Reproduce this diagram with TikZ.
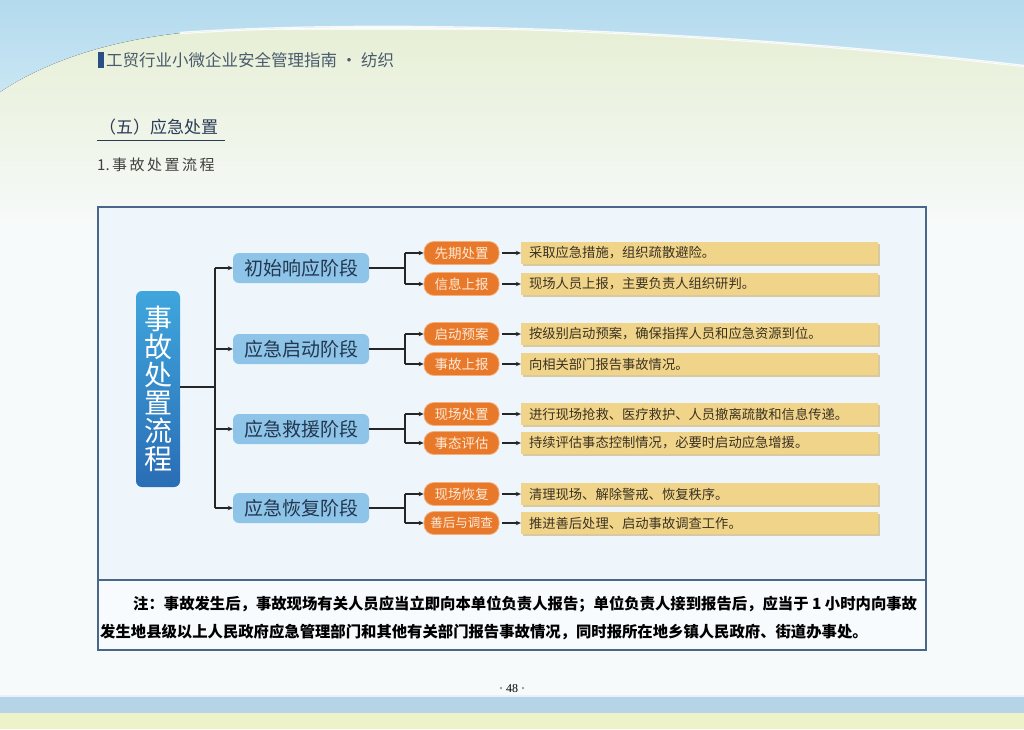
\documentclass[tikz,border=0pt]{standalone}
\usepackage{fontspec}
\setmainfont{Noto Sans CJK SC}
\newfontfamily\serifnum{Liberation Serif}
\usetikzlibrary{arrows.meta}
\newcommand\fs[1]{\fontsize{#1pt}{#1pt}\selectfont}
\definecolor{pagebg}{HTML}{F7FAFA}
\definecolor{skyblue}{HTML}{B3DAEE}
\definecolor{skyblue2}{HTML}{C9E6F3}
\definecolor{palegreen}{HTML}{E7EFD6}
\definecolor{boxline}{HTML}{4A6688}
\definecolor{boxfill}{HTML}{EEF6FB}
\definecolor{phaseblue}{HTML}{8DC4E7}
\definecolor{phasetext}{HTML}{23364F}
\definecolor{lefttop}{HTML}{3FA6DD}
\definecolor{leftbot}{HTML}{2A6DB5}
\definecolor{orangebox}{HTML}{E8782A}
\definecolor{orangeedge}{HTML}{F3B07A}
\definecolor{orangetext}{HTML}{FCEBD8}
\definecolor{yellowbar}{HTML}{F0D48A}
\definecolor{yellowshadow}{HTML}{D9C9A0}
\definecolor{yellowtext}{HTML}{3C3222}
\definecolor{headtext}{HTML}{4A5A6C}
\definecolor{headbar}{HTML}{2C4E86}
\definecolor{titletext}{HTML}{2B3B56}
\definecolor{bandblue}{HTML}{B6D4E8}
\definecolor{bandyellow}{HTML}{EEF2C8}
\tikzset{
  phase/.style={rounded corners=6pt, fill=phaseblue, minimum width=136pt, minimum height=30pt, inner sep=0pt, font=\fs{19}, text=phasetext},
  substep/.style={rounded corners=10pt, fill=orangebox, draw=orangeedge, line width=0.8pt, minimum width=75pt, minimum height=23pt, inner sep=0pt, font=\fs{13.5}, text=orangetext},
  detail/.style={fill=yellowbar, minimum width=357pt, minimum height=22pt, inner sep=0pt},
  detailtext/.style={anchor=west, inner sep=0pt, font=\fs{13.3}, text=yellowtext},
  conn/.style={draw=black!85, line width=1.2pt},
  arr/.style={conn, -{Stealth[length=5pt,width=4.5pt]}},
}
\begin{document}
\begin{tikzpicture}[x=1pt,y=-1pt]
\useasboundingbox (0,0) rectangle (1024,729);
% page background
\fill[pagebg] (0,0) rectangle (1024,729);
\fill[top color=palegreen, bottom color=pagebg] (0,30) rectangle (1024,230);
\fill[top color=skyblue, bottom color=skyblue2] (0,0) -- (1024,0) -- (1024,66) .. controls (800,40) and (450,15) .. (180,33) .. controls (100,42) and (40,65) .. (0,92) -- cycle;
\draw[white, line width=2.5pt, opacity=0.85] (180,33) .. controls (450,15) and (800,40) .. (1024,66);
% bottom bands
\fill[bandblue] (0,697) rectangle (1024,713);
\fill[bandyellow] (0,713) rectangle (1024,729);
\fill[white!70!bandblue] (0,695) rectangle (1024,697);
% header
\fill[headbar] (98,52) rectangle (104,68);
\node[anchor=west, inner sep=0pt, font=\fs{16.5}, text=headtext] (hdr) at (106,60) {工贸行业小微企业安全管理指南 · 纺织};
\node[anchor=west, inner sep=0pt, font=\fs{17}, text=titletext] (sec) at (99,127) {（五）应急处置};
\draw[titletext, line width=0.8pt] (97,140) -- (225,140);
\node[anchor=west, inner sep=0pt, font=\fs{15}, text=black!75] (sub) at (97,165) {1.\,事\,故\,处\,置\,流\,程};
% main box
\fill[boxfill] (98,207) rectangle (926,580);
\fill[white!60!boxfill] (98,580) rectangle (926,650);
\draw[boxline, line width=1.6pt] (98,207) rectangle (926,650);
\draw[boxline, line width=1.6pt] (98,580) -- (926,580);
% left node
\node[rounded corners=6pt, top color=lefttop, bottom color=leftbot, minimum width=44pt, minimum height=196pt, inner sep=0pt, text=white, font=\fs{28}, align=center] (L) at (158,389) {事\\[0pt]故\\[0pt]处\\[0pt]置\\[0pt]流\\[0pt]程};
% phases
\node[phase] (P1) at (301,268) {初始响应阶段};
\node[phase] (P2) at (301,349) {应急启动阶段};
\node[phase] (P3) at (301,429) {应急救援阶段};
\node[phase] (P4) at (301,508) {应急恢复阶段};
\coordinate (T) at (215,387);
\draw[conn] (L.east |- T) -- (T);
\draw[conn] (T |- P1) -- (T |- P4);
\foreach \p in {P1,P2,P3,P4} \draw[arr] (T |- \p) -- (\p.west);
% sub steps
\node[substep] (S1) at (461.5,253) {先期处置};
\node[substep] (S2) at (461.5,284) {信息上报};
\node[substep] (S3) at (461.5,334) {启动预案};
\node[substep] (S4) at (461.5,364) {事故上报};
\node[substep] (S5) at (461.5,414) {现场处置};
\node[substep] (S6) at (461.5,443) {事态评估};
\node[substep] (S7) at (461.5,494) {现场恢复};
\node[substep, font=\fs{12.5}] (S8) at (461.5,523) {善后与调查};
\foreach \p/\a/\b in {P1/S1/S2, P2/S3/S4, P3/S5/S6, P4/S7/S8} {
  \coordinate (J\p) at (405,0);
  \draw[conn] (\p.east) -- (J\p |- \p);
  \draw[conn] (J\p |- \a) -- (J\p |- \b);
  \draw[arr] (J\p |- \a) -- (\a.west);
  \draw[arr] (J\p |- \b) -- (\b.west);
}
% details
\foreach \s/\t [count=\i] in {S1/采取应急措施，组织疏散避险。, S2/现场人员上报，主要负责人组织研判。, S3/按级别启动预案，确保指挥人员和应急资源到位。, S4/向相关部门报告事故情况。, S5/进行现场抢救、医疗救护、人员撤离疏散和信息传递。, S6/持续评估事态控制情况，必要时启动应急增援。, S7/清理现场、解除警戒、恢复秩序。, S8/推进善后处理、启动事故调查工作。} {
  \fill[yellowshadow] (523,0 |- \s) ++(0,-9) rectangle ++(357,22);
  \node[detail] (D\i) at (699.5,0 |- \s) {};
  \node[detailtext] (DT\i) at ([xshift=8pt]D\i.west) {\t};
  \draw[arr] (\s.east) ++(3,0) -- (D\i.west);
}
% note
\node[anchor=west, inner sep=0pt, font=\fs{15.35}\bfseries, text=black] (N1) at (133,604) {注：事故发生后，事故现场有关人员应当立即向本单位负责人报告；单位负责人接到报告后，应当于 1 小时内向事故};
\node[anchor=west, inner sep=0pt, font=\fs{15.35}\bfseries, text=black] (N2) at (100,632) {发生地县级以上人民政府应急管理部门和其他有关部门报告事故情况，同时报所在地乡镇人民政府、街道办事处。};
% page number
\node[inner sep=0pt, font=\serifnum\fs{12}] (pg) at (512,689) {· 48 ·};
\end{tikzpicture}
\end{document}
